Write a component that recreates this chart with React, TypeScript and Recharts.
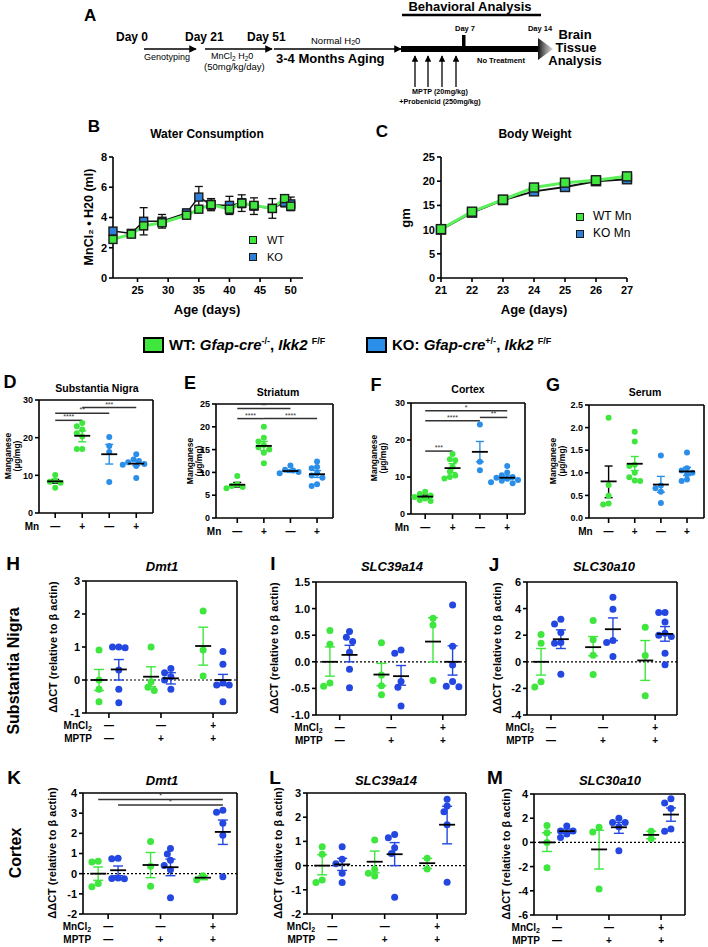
import React from 'react';
import {
  ScatterChart,
  Scatter,
  LineChart,
  Line,
  XAxis,
  YAxis,
  ErrorBar,
  ReferenceLine,
} from 'recharts';

const FONT = '"Liberation Sans", Arial, Helvetica, sans-serif';
const GREEN = '#3ee63e';
const GREEN_LINE = '#5cf05c';
const SKY = '#2b8ee8';
const ROYAL = '#2347e0';
const KO_SQ = '#2f7fd6';

// ── B: water consumption ──
const WATER_DAYS = [21, 24, 26, 29, 33, 35, 37, 40, 42, 44, 47, 49, 50];
const WATER_WT = [2.55, 2.9, 3.45, 3.65, 4.15, 4.55, 4.85, 4.55, 4.95, 4.8, 4.6, 5.25, 4.75];
const WATER_WT_SEM = [0.15, 0.15, 0.25, 0.2, 0.15, 0.2, 0.3, 0.25, 0.3, 0.25, 0.25, 0.25, 0.25];
const WATER_KO = [3.1, 2.95, 3.75, 3.75, 4.3, 5.35, 4.85, 4.8, 4.95, 4.75, 4.6, 5.0, 4.9];
const WATER_KO_SEM = [0.2, 0.15, 0.9, 0.45, 0.25, 0.7, 0.4, 0.6, 0.55, 0.55, 0.65, 0.3, 0.45];

// ── C: body weight ──
const WEIGHT_DAYS = [21, 22, 23, 24, 25, 26, 27];
const WEIGHT_WT = [10.1, 13.7, 16.2, 18.7, 19.7, 20.2, 21.0];
const WEIGHT_WT_SEM = [0.5, 0.5, 0.4, 0.5, 0.5, 0.4, 0.5];
const WEIGHT_KO = [10.0, 13.5, 16.1, 17.9, 18.8, 20.0, 20.4];
const WEIGHT_KO_SEM = [0.4, 0.4, 0.4, 0.5, 0.4, 0.4, 0.4];

// ── D–G: manganese levels (WT −, WT +, KO −, KO +) ──
const MN_TICKS = ['—', '+', '—', '+'];

const SN_VALUES = [
  [10.1, 8.6, 8.3, 8.0, 6.7],
  [23.9, 23.0, 22.2, 21.2, 20.3, 17.0, 17.0],
  [20.2, 17.8, 16.2, 8.2],
  [15.6, 14.2, 13.8, 13.5, 13.0, 12.8, 12.5, 9.3],
];
const SN_MEAN = [8.4, 20.5, 15.6, 13.1];
const SN_SEM = [[7.9, 8.9], [18.9, 21.8], [13.0, 18.2], [12.6, 13.8]];
const SN_SIG = [
  { from: 1, to: 2, y: 24.6, label: '****' },
  { from: 1, to: 3, y: 26.5, label: '**' },
  { from: 2, to: 4, y: 28.0, label: '***' },
];

const ST_VALUES = [
  [9.2, 7.4, 7.0, 6.8, 6.5],
  [20.0, 17.6, 16.8, 16.0, 15.5, 15.0, 14.3, 12.0],
  [11.5, 10.6, 10.4, 10.1, 9.8],
  [12.4, 11.2, 10.9, 9.8, 9.3, 8.8, 7.4, 7.0],
];
const ST_MEAN = [7.3, 15.8, 10.3, 9.6];
const ST_SEM = [[6.8, 7.8], [14.8, 16.8], [10.0, 10.6], [8.9, 10.4]];
const ST_SIG = [
  { from: 1, to: 3, y: 24.0, label: '**' },
  { from: 1, to: 2, y: 21.8, label: '****' },
  { from: 2, to: 4, y: 21.8, label: '****' },
];

const CTX_VALUES = [
  [6.0, 5.4, 5.0, 4.6, 4.2, 3.8, 3.5],
  [16.2, 14.8, 14.5, 12.8, 11.5, 10.4, 10.0, 9.6],
  [24.2, 14.1, 11.8],
  [13.0, 11.2, 10.5, 10.0, 9.8, 9.5, 9.2, 9.0, 8.6, 8.3],
];
const CTX_MEAN = [4.7, 12.4, 16.8, 9.8];
const CTX_SEM = [[4.3, 5.1], [11.2, 13.6], [14.1, 19.6], [9.3, 10.3]];
const CTX_SIG = [
  { from: 1, to: 4, y: 27.9, label: '*' },
  { from: 1, to: 3, y: 25.2, label: '****' },
  { from: 3, to: 4, y: 26.1, label: '**' },
  { from: 1, to: 2, y: 17.0, label: '***' },
];

const SER_VALUES = [
  [2.22, 0.73, 0.49, 0.32, 0.3],
  [1.91, 1.69, 1.18, 1.15, 1.0, 0.9, 0.83, 0.82],
  [1.38, 0.72, 0.66, 0.58, 0.33],
  [1.45, 1.1, 1.05, 1.0, 0.97, 0.85, 0.82],
];
const SER_MEAN = [0.81, 1.2, 0.74, 1.03];
const SER_SEM = [[0.45, 1.15], [1.05, 1.36], [0.57, 0.92], [0.94, 1.12]];

// ── H–M: qPCR ΔΔCT, groups = (−/−), (−/+), (+/+) ──
const TREAT_MNCL2 = ['—', '—', '+'];
const TREAT_MPTP = ['—', '+', '+'];

const SN_DMT1_WT = [[0.91, 0.0, -0.28, -0.66], [1.0, -0.05, -0.22, -0.32], [2.09, 0.91, 0.12]];
const SN_DMT1_WT_MEAN = [0, 0.1, 1.03];
const SN_DMT1_WT_SEM = [[-0.32, 0.32], [-0.2, 0.4], [0.45, 1.6]];
const SN_DMT1_KO = [[1.0, 1.0, 0.98, 0.3, -0.28, -0.69], [0.35, 0.22, 0.1, 0.0, -0.28], [0.86, 0.48, -0.08, -0.15, -0.15, -0.66]];
const SN_DMT1_KO_MEAN = [0.32, 0.05, 0.0];
const SN_DMT1_KO_SEM = [[0.0, 0.62], [-0.12, 0.22], [-0.17, 0.17]];

const SN_Z14_WT = [[0.59, 0.33, -0.4, -0.46], [0.36, -0.25, -0.45, -0.62], [0.82, 0.69, -0.35]];
const SN_Z14_WT_MEAN = [0, -0.24, 0.38];
const SN_Z14_WT_SEM = [[-0.27, 0.28], [-0.45, -0.03], [0.0, 0.83]];
const SN_Z14_KO = [[0.57, 0.46, 0.38, 0.18, -0.14, -0.49], [0.22, 0.16, -0.37, -0.48, -0.83], [1.07, 0.29, -0.06, -0.37, -0.46, -0.47]];
const SN_Z14_KO_MEAN = [0.13, -0.27, 0.0];
const SN_Z14_KO_SEM = [[0.0, 0.31], [-0.44, -0.07], [-0.25, 0.3]];

const SN_Z10_WT = [[2.05, 1.4, -1.5, -1.9], [3.1, 1.65, 0.5, -0.95], [2.6, 0.47, -2.55]];
const SN_Z10_WT_MEAN = [0, 1.1, 0.1];
const SN_Z10_WT_SEM = [[-1.0, 1.0], [0.45, 1.9], [-1.4, 1.6]];
const SN_Z10_KO = [[3.2, 2.85, 2.2, 1.45, 1.4, -0.93], [4.85, 3.95, 1.6, 1.45, 0.4], [3.7, 3.7, 3.0, 2.15, 2.0, 1.9, 0.65, -0.23]];
const SN_Z10_KO_MEAN = [1.7, 2.45, 2.1];
const SN_Z10_KO_SEM = [[1.0, 2.4], [1.6, 3.3], [1.55, 2.65]];

const CX_DMT1_WT = [[0.62, 0.58, -0.49, -0.65], [1.6, 0.37, -0.62], [-0.1, -0.3]];
const CX_DMT1_WT_MEAN = [0, 0.43, -0.2];
const CX_DMT1_WT_SEM = [[-0.33, 0.33], [-0.2, 1.05], [-0.3, -0.1]];
const CX_DMT1_KO = [[0.76, 0.74, -0.22, -0.24, -0.25], [1.25, 0.97, 0.67, 0.4, 0.2, -1.2], [3.14, 3.05, 2.5, 1.9, -0.15]];
const CX_DMT1_KO_MEAN = [0.17, 0.32, 2.07];
const CX_DMT1_KO_SEM = [[-0.1, 0.38], [-0.1, 0.72], [1.45, 2.66]];
const CX_DMT1_SIG = [
  { from: 0.81, to: 3.19, y: 3.68, label: '*' },
  { from: 1.19, to: 3.19, y: 3.4, label: '*' },
];

const CX_Z14_WT = [[0.78, 0.47, -0.6, -0.7], [1.06, -0.15, -0.32, -0.43], [0.3, -0.14]];
const CX_Z14_WT_MEAN = [0, 0.16, 0.1];
const CX_Z14_WT_SEM = [[-0.38, 0.45], [-0.3, 0.6], [-0.12, 0.3]];
const CX_Z14_KO = [[0.78, 0.26, 0.08, -0.32, -0.7], [1.29, 1.15, 0.74, 0.5, -1.31], [2.74, 2.46, 2.23, 1.69, -0.69]];
const CX_Z14_KO_MEAN = [0.05, 0.47, 1.69];
const CX_Z14_KO_SEM = [[-0.2, 0.3], [0.0, 0.95], [0.9, 2.45]];

const CX_Z10_WT = [[1.4, 0.8, 0.0, -2.1], [1.25, 0.85, -3.86], [0.93, 0.3]];
const CX_Z10_WT_MEAN = [0, -0.58, 0.62];
const CX_Z10_WT_SEM = [[-0.75, 0.8], [-2.2, 1.0], [0.3, 0.93]];
const CX_Z10_KO = [[1.35, 0.95, 0.95, 0.7, 0.4], [2.0, 1.65, 1.65, 1.3, -0.7], [3.6, 3.25, 2.8, 1.1, 0.93]];
const CX_Z10_KO_MEAN = [0.93, 1.25, 2.3];
const CX_Z10_KO_SEM = [[0.75, 1.1], [0.75, 1.65], [1.75, 2.85]];

// ────────────────────────────────────────────

type Box = { x0: number; x1: number; y0: number; y1: number };
type Cloud = {
  center: number;
  values: number[];
  mean: number;
  sem: number[];
  color: string;
  barColor: string;
};
type Sig = { from: number; to: number; y: number; label: string };

// spread points sideways so dots don't sit on top of each other (beeswarm-ish)
function swarm(values: number[], center: number, kx: number, ky: number, r: number) {
  const placed: [number, number][] = [];
  return values.map((v) => {
    const py = v * ky;
    let off = 0;
    for (let k = 0; k < 15; k++) {
      const cand = (k % 2 === 1 ? -1 : 1) * Math.ceil(k / 2) * r * 0.9;
      if (placed.every(([px, qy]) => Math.hypot(px - cand, qy - py) >= r * 1.8)) {
        off = cand;
        break;
      }
    }
    placed.push([off, py]);
    return { x: center + off / kx, y: v };
  });
}

function Tag({
  x, y, size, children, italic, rotate, weight = 'bold', align = 'center',
}: {
  x: number; y: number; size: number; children: React.ReactNode;
  italic?: boolean; rotate?: boolean; weight?: string; align?: 'center' | 'left';
}) {
  const tx = align === 'center' ? '-50%' : '0';
  return (
    <div
      style={{
        position: 'absolute',
        left: x,
        top: y,
        transform: `translate(${tx}, -50%)${rotate ? ' rotate(-90deg)' : ''}`,
        fontFamily: FONT,
        fontSize: size,
        fontWeight: weight as any,
        fontStyle: italic ? 'italic' : 'normal',
        whiteSpace: 'nowrap',
        lineHeight: 1.1,
        textAlign: 'center',
        color: '#000',
      }}
    >
      {children}
    </div>
  );
}

const tickText = { fontFamily: FONT, fontWeight: 'bold', fontSize: 10, fill: '#000' };

const mnTick = (p: any) => {
  const v = p.payload.value;
  return (
    <g>
      <text {...tickText} x={p.x} y={p.y + 9} textAnchor="middle" dominantBaseline="middle">
        {MN_TICKS[v - 1]}
      </text>
      {v === 1 && (
        <text {...tickText} x={p.x - 16} y={p.y + 9} textAnchor="end" dominantBaseline="middle">
          Mn
        </text>
      )}
    </g>
  );
};

const treatTick = (p: any) => {
  const v = p.payload.value;
  return (
    <g>
      <text {...tickText} x={p.x} y={p.y + 8} textAnchor="middle" dominantBaseline="middle">
        {TREAT_MNCL2[v - 1]}
      </text>
      <text {...tickText} x={p.x} y={p.y + 21} textAnchor="middle" dominantBaseline="middle">
        {TREAT_MPTP[v - 1]}
      </text>
      {v === 1 && (
        <>
          <text {...tickText} x={p.x - 17} y={p.y + 8} textAnchor="end" dominantBaseline="middle">
            MnCl<tspan fontSize={7} dy={3}>2</tspan>
          </text>
          <text {...tickText} x={p.x - 17} y={p.y + 21} textAnchor="end" dominantBaseline="middle">
            MPTP
          </text>
        </>
      )}
    </g>
  );
};

function DotPlot({
  box, xDomain, yDomain, yTicks, clouds, sig = [], zero = false, kind, decimals = 0,
  tickFont, r, meanHalf, capHalf,
}: {
  box: Box; xDomain: number[]; yDomain: number[]; yTicks: number[]; clouds: Cloud[];
  sig?: Sig[]; zero?: boolean; kind: 'mn' | 'treat'; decimals?: number;
  tickFont: number; r: number; meanHalf: number; capHalf: number;
}) {
  const YW = 36;
  const TOP = 8;
  const RIGHT = 6;
  const XH = kind === 'mn' ? 24 : 32;
  const width = box.x1 - box.x0 + YW + RIGHT;
  const height = box.y1 - box.y0 + TOP + XH;
  const kx = (box.x1 - box.x0) / (xDomain[1] - xDomain[0]);
  const ky = (box.y1 - box.y0) / (yDomain[1] - yDomain[0]);
  const groupTicks = kind === 'mn' ? [1, 2, 3, 4] : [1, 2, 3];
  const axisStyle = { stroke: '#000', strokeWidth: 1.6 };

  return (
    <div style={{ position: 'absolute', left: box.x0 - YW, top: box.y0 - TOP }}>
      <ScatterChart width={width} height={height} margin={{ top: TOP, right: RIGHT, bottom: 0, left: 0 }}>
        <XAxis
          type="number"
          dataKey="x"
          domain={xDomain}
          ticks={groupTicks}
          interval={0}
          height={XH}
          axisLine={axisStyle}
          tickLine={axisStyle}
          tickSize={5}
          tickMargin={0}
          tick={kind === 'mn' ? mnTick : treatTick}
          allowDataOverflow
        />
        <YAxis
          type="number"
          dataKey="y"
          domain={yDomain}
          ticks={yTicks}
          interval={0}
          width={YW}
          axisLine={axisStyle}
          tickLine={axisStyle}
          tickSize={4}
          tickMargin={2}
          tick={{ fontSize: tickFont, fontWeight: 'bold', fill: '#000', fontFamily: FONT }}
          tickFormatter={(v: number) => v.toFixed(decimals)}
          allowDataOverflow
        />
        <ReferenceLine x={xDomain[1]} stroke="#000" strokeWidth={1.6} />
        <ReferenceLine y={yDomain[1]} stroke="#000" strokeWidth={1.6} />
        {zero && <ReferenceLine y={0} stroke="#000" strokeWidth={1.2} strokeDasharray="2 2" />}
        {sig.map((s, i) => (
          <ReferenceLine
            key={`sig-${i}`}
            segment={[{ x: s.from, y: s.y }, { x: s.to, y: s.y }]}
            stroke="#333"
            strokeWidth={1.5}
            label={{ value: s.label, position: 'top', offset: 1, fontSize: 7, fill: '#333', fontFamily: FONT }}
          />
        ))}
        {clouds.map((c, i) => (
          <Scatter
            key={`pts-${i}`}
            data={swarm(c.values, c.center, kx, ky, r)}
            isAnimationActive={false}
            shape={(p: any) => <circle cx={p.cx} cy={p.cy} r={r} fill={c.color} />}
          />
        ))}
        {clouds.map((c, i) => (
          <Scatter
            key={`mean-${i}`}
            data={[{ x: c.center, y: c.mean, err: [c.mean - c.sem[0], c.sem[1] - c.mean] }]}
            isAnimationActive={false}
            shape={(p: any) => (
              <line x1={p.cx - meanHalf} x2={p.cx + meanHalf} y1={p.cy} y2={p.cy} stroke="#000" strokeWidth={1.8} />
            )}
          >
            <ErrorBar dataKey="err" direction="y" width={capHalf} stroke={c.barColor} strokeWidth={1.4} />
          </Scatter>
        ))}
      </ScatterChart>
    </div>
  );
}

function mnClouds(values: number[][], mean: number[], sem: number[][]): Cloud[] {
  const colors = [GREEN, GREEN, SKY, SKY];
  const bars = ['#000', GREEN, SKY, SKY];
  return values.map((v, i) => ({
    center: i + 1, values: v, mean: mean[i], sem: sem[i], color: colors[i], barColor: bars[i],
  }));
}

function treatClouds(
  wt: number[][], wtMean: number[], wtSem: number[][],
  ko: number[][], koMean: number[], koSem: number[][],
): Cloud[] {
  const out: Cloud[] = [];
  wt.forEach((_, i) => {
    out.push({ center: i + 1 - 0.19, values: wt[i], mean: wtMean[i], sem: wtSem[i], color: GREEN, barColor: GREEN });
    out.push({ center: i + 1 + 0.19, values: ko[i], mean: koMean[i], sem: koSem[i], color: ROYAL, barColor: ROYAL });
  });
  return out;
}

function squareDot(fill: string, size: number, stroke = '#1a1a1a') {
  return (p: any) => (
    <rect
      key={`sq-${fill}-${p.index}`}
      x={p.cx - size / 2}
      y={p.cy - size / 2}
      width={size}
      height={size}
      fill={fill}
      stroke={stroke}
      strokeWidth={1.4}
    />
  );
}

function Timeline() {
  const up = [415, 428, 442, 456];
  return (
    <svg width={708} height={110} style={{ position: 'absolute', left: 0, top: 0 }} fontFamily={FONT}>
      <defs>
        <marker id="ah" viewBox="0 0 10 10" refX="9" refY="5" markerWidth="5" markerHeight="5" orient="auto">
          <path d="M0,0 L10,5 L0,10 z" fill="#000" />
        </marker>
        <linearGradient id="fade" x1="0" x2="1" y1="0" y2="0">
          <stop offset="0" stopColor="#111" />
          <stop offset="1" stopColor="#bbb" stopOpacity={0.6} />
        </linearGradient>
      </defs>
      <text x={84} y={17} fontSize={17} fontWeight="bold" dominantBaseline="middle">A</text>
      <text x={116} y={38} fontSize={12} fontWeight="bold" dominantBaseline="middle">Day 0</text>
      <text x={185} y={38} fontSize={12} fontWeight="bold" dominantBaseline="middle">Day 21</text>
      <text x={247} y={38} fontSize={12} fontWeight="bold" dominantBaseline="middle">Day 51</text>
      <line x1={144} x2={196} y1={49} y2={49} stroke="#000" strokeWidth={1.5} markerEnd="url(#ah)" />
      <line x1={205} x2={272} y1={49} y2={49} stroke="#000" strokeWidth={1.5} markerEnd="url(#ah)" />
      <line x1={274} x2={401} y1={49} y2={49} stroke="#000" strokeWidth={1.5} markerEnd="url(#ah)" />
      <text x={144} y={58} fontSize={9} dominantBaseline="middle">Genotyping</text>
      <text x={211} y={57} fontSize={9} dominantBaseline="middle">
        MnCl<tspan fontSize={6.5} dy={2}>2</tspan>
        <tspan dy={-2}> H</tspan><tspan fontSize={6.5} dy={2}>2</tspan><tspan dy={-2}>0</tspan>
      </text>
      <text x={204} y={67} fontSize={9.5} dominantBaseline="middle">(50mg/kg/day)</text>
      <text x={311} y={41} fontSize={9.5} dominantBaseline="middle">
        Normal H<tspan fontSize={7} dy={2}>2</tspan><tspan dy={-2}>0</tspan>
      </text>
      <text x={276} y={60} fontSize={13} fontWeight="bold" dominantBaseline="middle">3-4 Months Aging</text>

      <text x={470} y={8} fontSize={13} fontWeight="bold" textAnchor="middle" dominantBaseline="middle">
        Behavioral Analysis
      </text>
      <line x1={402} x2={541} y1={15} y2={15} stroke="#000" strokeWidth={2.5} />
      <rect x={401} y={46} width={139} height={6} fill="#000" />
      <polygon points="538,38 553,49 538,60" fill="url(#fade)" />
      <rect x={462} y={35} width={3.5} height={12} fill="#000" />
      <text x={465} y={29} fontSize={7.5} fontWeight="bold" textAnchor="middle" dominantBaseline="middle">Day 7</text>
      <text x={540} y={29} fontSize={7.5} fontWeight="bold" textAnchor="middle" dominantBaseline="middle">Day 14</text>
      <text x={477} y={61} fontSize={7.5} fontWeight="bold" dominantBaseline="middle">No Treatment</text>
      {up.map((x) => (
        <line key={x} x1={x} x2={x} y1={87} y2={56} stroke="#000" strokeWidth={1.3} markerEnd="url(#ah)" />
      ))}
      <text x={440} y={92} fontSize={7.2} fontWeight="bold" textAnchor="middle" dominantBaseline="middle">
        MPTP (20mg/kg)
      </text>
      <text x={440} y={102} fontSize={7.2} fontWeight="bold" textAnchor="middle" dominantBaseline="middle">
        +Probenicid (250mg/kg)
      </text>
      <text x={575} y={36} fontSize={13} fontWeight="bold" textAnchor="middle" dominantBaseline="middle">Brain</text>
      <text x={576} y={49} fontSize={13} fontWeight="bold" textAnchor="middle" dominantBaseline="middle">Tissue</text>
      <text x={575} y={62} fontSize={13} fontWeight="bold" textAnchor="middle" dominantBaseline="middle">Analysis</text>
    </svg>
  );
}

const axisLine = { stroke: '#000', strokeWidth: 1.6 };
const lineTick = { fontSize: 11, fontWeight: 'bold', fill: '#000', fontFamily: FONT };

function WaterChart() {
  const rows = WATER_DAYS.map((d, i) => ({
    day: d, wt: WATER_WT[i], wtErr: WATER_WT_SEM[i], ko: WATER_KO[i], koErr: WATER_KO_SEM[i],
  }));
  const box = { x0: 113, x1: 303, y0: 157, y1: 278 };
  const YW = 26;
  return (
    <div style={{ position: 'absolute', left: box.x0 - YW, top: box.y0 - 8 }}>
      <LineChart
        width={box.x1 - box.x0 + YW + 8}
        height={box.y1 - box.y0 + 8 + 26}
        data={rows}
        margin={{ top: 8, right: 8, bottom: 0, left: 0 }}
      >
        <XAxis
          dataKey="day"
          type="number"
          domain={[21, 52]}
          ticks={[25, 30, 35, 40, 45, 50]}
          interval={0}
          height={26}
          axisLine={axisLine}
          tickLine={axisLine}
          tickSize={4}
          tickMargin={4}
          tick={lineTick}
        />
        <YAxis
          domain={[0, 8]}
          ticks={[0, 2, 4, 6, 8]}
          interval={0}
          width={YW}
          axisLine={axisLine}
          tickLine={axisLine}
          tickSize={4}
          tickMargin={2}
          tick={lineTick}
        />
        <Line dataKey="ko" stroke="#111" strokeWidth={1.5} dot={squareDot(KO_SQ, 8)} isAnimationActive={false}>
          <ErrorBar dataKey="koErr" direction="y" width={4} stroke="#111" strokeWidth={1.3} />
        </Line>
        <Line dataKey="wt" stroke={GREEN_LINE} strokeWidth={3} dot={squareDot(GREEN, 8)} isAnimationActive={false}>
          <ErrorBar dataKey="wtErr" direction="y" width={4} stroke="#111" strokeWidth={1.3} />
        </Line>
      </LineChart>
    </div>
  );
}

function WeightChart() {
  const rows = WEIGHT_DAYS.map((d, i) => ({
    day: d, wt: WEIGHT_WT[i], wtErr: WEIGHT_WT_SEM[i], ko: WEIGHT_KO[i], koErr: WEIGHT_KO_SEM[i],
  }));
  const box = { x0: 441, x1: 627, y0: 157, y1: 278 };
  const YW = 30;
  return (
    <div style={{ position: 'absolute', left: box.x0 - YW, top: box.y0 - 8 }}>
      <LineChart
        width={box.x1 - box.x0 + YW + 10}
        height={box.y1 - box.y0 + 8 + 26}
        data={rows}
        margin={{ top: 8, right: 10, bottom: 0, left: 0 }}
      >
        <XAxis
          dataKey="day"
          type="number"
          domain={[21, 27]}
          ticks={WEIGHT_DAYS}
          interval={0}
          height={26}
          axisLine={axisLine}
          tickLine={axisLine}
          tickSize={4}
          tickMargin={4}
          tick={lineTick}
        />
        <YAxis
          domain={[0, 25]}
          ticks={[0, 5, 10, 15, 20, 25]}
          interval={0}
          width={YW}
          axisLine={axisLine}
          tickLine={axisLine}
          tickSize={4}
          tickMargin={2}
          tick={lineTick}
        />
        <Line dataKey="ko" stroke="#111" strokeWidth={2} dot={squareDot(KO_SQ, 9)} isAnimationActive={false}>
          <ErrorBar dataKey="koErr" direction="y" width={4} stroke="#111" strokeWidth={1.2} />
        </Line>
        <Line dataKey="wt" stroke={GREEN_LINE} strokeWidth={3} dot={squareDot(GREEN, 9)} isAnimationActive={false}>
          <ErrorBar dataKey="wtErr" direction="y" width={4} stroke="#111" strokeWidth={1.2} />
        </Line>
      </LineChart>
    </div>
  );
}

function Swatch({ x, y, color, size = 8 }: { x: number; y: number; color: string; size?: number }) {
  return (
    <div
      style={{
        position: 'absolute', left: x - size / 2, top: y - size / 2, width: size, height: size,
        background: color, border: '1.5px solid #1a1a1a', boxSizing: 'border-box',
      }}
    />
  );
}

const sup = { fontSize: 9, position: 'relative' as const, top: -6, fontStyle: 'normal' as const };
const MANG = (
  <>
    Manganese
    <br />
    (µg/mg)
  </>
);
const DDCT = <>ΔΔCT (relative to β actin)</>;

export default function App() {
  const dotCommon = { tickFont: 9, r: 3, meanHalf: 8, capHalf: 4 };
  const qCommon = { tickFont: 11, r: 3.5, meanHalf: 8, capHalf: 5, zero: true, kind: 'treat' as const };
  return (
    <div style={{ position: 'absolute', left: 0, top: 0, width: 708, height: 947, background: '#fff', overflow: 'hidden' }}>
      <Timeline />

      {/* B */}
      <Tag x={94} y={127} size={17}>B</Tag>
      <Tag x={207} y={135} size={12}>Water Consumption</Tag>
      <Tag x={90} y={217} size={12.5} rotate>MnCl₂ • H20 (ml)</Tag>
      <WaterChart />
      <Tag x={207} y={310} size={13}>Age (days)</Tag>
      <Swatch x={253} y={240} color={GREEN} />
      <Tag x={267} y={240} size={11} weight="normal" align="left">WT</Tag>
      <Swatch x={253} y={257} color={KO_SQ} />
      <Tag x={267} y={257} size={11} weight="normal" align="left">KO</Tag>

      {/* C */}
      <Tag x={382} y={132} size={17}>C</Tag>
      <Tag x={535} y={135} size={12}>Body Weight</Tag>
      <Tag x={406} y={218} size={13} rotate>gm</Tag>
      <WeightChart />
      <Tag x={534} y={310} size={13}>Age (days)</Tag>
      <Swatch x={580} y={217} color={GREEN} />
      <Tag x={593} y={217} size={12} weight="normal" align="left">WT Mn</Tag>
      <Swatch x={580} y={234} color={KO_SQ} />
      <Tag x={593} y={234} size={12} weight="normal" align="left">KO Mn</Tag>

      {/* genotype legend */}
      <div style={{ position: 'absolute', left: 143, top: 337, width: 21, height: 16, background: GREEN, border: '2.5px solid #000', boxSizing: 'border-box' }} />
      <Tag x={169} y={345} size={15} align="left">
        WT: <i>Gfap-cre</i><span style={sup}>-/-</span>, <i>Ikk2</i> <span style={sup}>F/F</span>
      </Tag>
      <div style={{ position: 'absolute', left: 366, top: 337, width: 21, height: 16, background: SKY, border: '2.5px solid #000', boxSizing: 'border-box' }} />
      <Tag x={392} y={345} size={15} align="left">
        KO: <i>Gfap-cre</i><span style={sup}>+/-</span>, <i>Ikk2</i> <span style={sup}>F/F</span>
      </Tag>

      {/* D–G */}
      <Tag x={10} y={383} size={18}>D</Tag>
      <Tag x={97} y={389} size={10.5}>Substantia Nigra</Tag>
      <Tag x={13} y={456} size={8.5} rotate>{MANG}</Tag>
      <DotPlot
        box={{ x0: 39, x1: 153, y0: 400, y1: 513 }}
        xDomain={[0.4, 4.62]}
        yDomain={[0, 30]}
        yTicks={[0, 10, 20, 30]}
        clouds={mnClouds(SN_VALUES, SN_MEAN, SN_SEM)}
        sig={SN_SIG}
        kind="mn"
        {...dotCommon}
      />

      <Tag x={190} y={384} size={18}>E</Tag>
      <Tag x={278} y={393} size={10.5}>Striatum</Tag>
      <Tag x={195} y={461} size={8.5} rotate>{MANG}</Tag>
      <DotPlot
        box={{ x0: 216, x1: 333, y0: 404, y1: 518 }}
        xDomain={[0.2, 4.6]}
        yDomain={[0, 25]}
        yTicks={[0, 5, 10, 15, 20, 25]}
        clouds={mnClouds(ST_VALUES, ST_MEAN, ST_SEM)}
        sig={ST_SIG}
        kind="mn"
        {...dotCommon}
      />

      <Tag x={376} y={386} size={18}>F</Tag>
      <Tag x={468} y={390} size={10.5}>Cortex</Tag>
      <Tag x={379} y={458} size={8.5} rotate>{MANG}</Tag>
      <DotPlot
        box={{ x0: 411, x1: 525, y0: 403, y1: 514 }}
        xDomain={[0.48, 4.65]}
        yDomain={[0, 30]}
        yTicks={[0, 10, 20, 30]}
        clouds={mnClouds(CTX_VALUES, CTX_MEAN, CTX_SEM)}
        sig={CTX_SIG}
        kind="mn"
        {...dotCommon}
      />

      <Tag x={553} y={386} size={18}>G</Tag>
      <Tag x={645} y={393} size={10.5}>Serum</Tag>
      <Tag x={558} y={461} size={8.5} rotate>{MANG}</Tag>
      <DotPlot
        box={{ x0: 589, x1: 704, y0: 405, y1: 518 }}
        xDomain={[0.25, 4.65]}
        yDomain={[0, 2.5]}
        yTicks={[0, 0.5, 1, 1.5, 2, 2.5]}
        decimals={1}
        clouds={mnClouds(SER_VALUES, SER_MEAN, SER_SEM)}
        kind="mn"
        {...dotCommon}
      />

      {/* H–J: substantia nigra */}
      <Tag x={13} y={564} size={19}>H</Tag>
      <Tag x={14} y={671} size={16} rotate>Substantia Nigra</Tag>
      <Tag x={162} y={567} size={13} italic>Dmt1</Tag>
      <Tag x={53} y={647} size={11} rotate>{DDCT}</Tag>
      <DotPlot
        box={{ x0: 86, x1: 237, y0: 581, y1: 713 }}
        xDomain={[0.56, 3.46]}
        yDomain={[-1, 3]}
        yTicks={[-1, 0, 1, 2, 3]}
        clouds={treatClouds(SN_DMT1_WT, SN_DMT1_WT_MEAN, SN_DMT1_WT_SEM, SN_DMT1_KO, SN_DMT1_KO_MEAN, SN_DMT1_KO_SEM)}
        {...qCommon}
      />

      <Tag x={273} y={564} size={19}>I</Tag>
      <Tag x={392} y={567} size={13} italic>SLC39a14</Tag>
      <Tag x={274} y={648} size={11} rotate>{DDCT}</Tag>
      <DotPlot
        box={{ x0: 316, x1: 466, y0: 582, y1: 715 }}
        xDomain={[0.54, 3.45]}
        yDomain={[-1, 1.5]}
        yTicks={[-1, -0.5, 0, 0.5, 1, 1.5]}
        decimals={1}
        clouds={treatClouds(SN_Z14_WT, SN_Z14_WT_MEAN, SN_Z14_WT_SEM, SN_Z14_KO, SN_Z14_KO_MEAN, SN_Z14_KO_SEM)}
        {...qCommon}
      />

      <Tag x={494} y={565} size={19}>J</Tag>
      <Tag x={604} y={567} size={13} italic>SLC30a10</Tag>
      <Tag x={497} y={648} size={11} rotate>{DDCT}</Tag>
      <DotPlot
        box={{ x0: 527, x1: 677, y0: 582, y1: 715 }}
        xDomain={[0.54, 3.42]}
        yDomain={[-4, 6]}
        yTicks={[-4, -2, 0, 2, 4, 6]}
        clouds={treatClouds(SN_Z10_WT, SN_Z10_WT_MEAN, SN_Z10_WT_SEM, SN_Z10_KO, SN_Z10_KO_MEAN, SN_Z10_KO_SEM)}
        {...qCommon}
      />

      {/* K–M: cortex */}
      <Tag x={14} y={778} size={19}>K</Tag>
      <Tag x={16} y={853} size={16} rotate>Cortex</Tag>
      <Tag x={162} y={781} size={13} italic>Dmt1</Tag>
      <Tag x={52} y={853} size={11} rotate>{DDCT}</Tag>
      <DotPlot
        box={{ x0: 83, x1: 237, y0: 793, y1: 914 }}
        xDomain={[0.52, 3.46]}
        yDomain={[-2, 4]}
        yTicks={[-2, -1, 0, 1, 2, 3, 4]}
        clouds={treatClouds(CX_DMT1_WT, CX_DMT1_WT_MEAN, CX_DMT1_WT_SEM, CX_DMT1_KO, CX_DMT1_KO_MEAN, CX_DMT1_KO_SEM)}
        sig={CX_DMT1_SIG}
        {...qCommon}
      />

      <Tag x={275} y={778} size={19}>L</Tag>
      <Tag x={386} y={781} size={13} italic>SLC39a14</Tag>
      <Tag x={278} y={853} size={11} rotate>{DDCT}</Tag>
      <DotPlot
        box={{ x0: 307, x1: 466, y0: 793, y1: 914 }}
        xDomain={[0.52, 3.55]}
        yDomain={[-2, 3]}
        yTicks={[-2, -1, 0, 1, 2, 3]}
        clouds={treatClouds(CX_Z14_WT, CX_Z14_WT_MEAN, CX_Z14_WT_SEM, CX_Z14_KO, CX_Z14_KO_MEAN, CX_Z14_KO_SEM)}
        {...qCommon}
      />

      <Tag x={495} y={778} size={19}>M</Tag>
      <Tag x={610} y={781} size={13} italic>SLC30a10</Tag>
      <Tag x={506} y={854} size={11} rotate>{DDCT}</Tag>
      <DotPlot
        box={{ x0: 534, x1: 685, y0: 794, y1: 915 }}
        xDomain={[0.56, 3.46]}
        yDomain={[-6, 4]}
        yTicks={[-6, -4, -2, 0, 2, 4]}
        clouds={treatClouds(CX_Z10_WT, CX_Z10_WT_MEAN, CX_Z10_WT_SEM, CX_Z10_KO, CX_Z10_KO_MEAN, CX_Z10_KO_SEM)}
        {...qCommon}
      />
    </div>
  );
}
